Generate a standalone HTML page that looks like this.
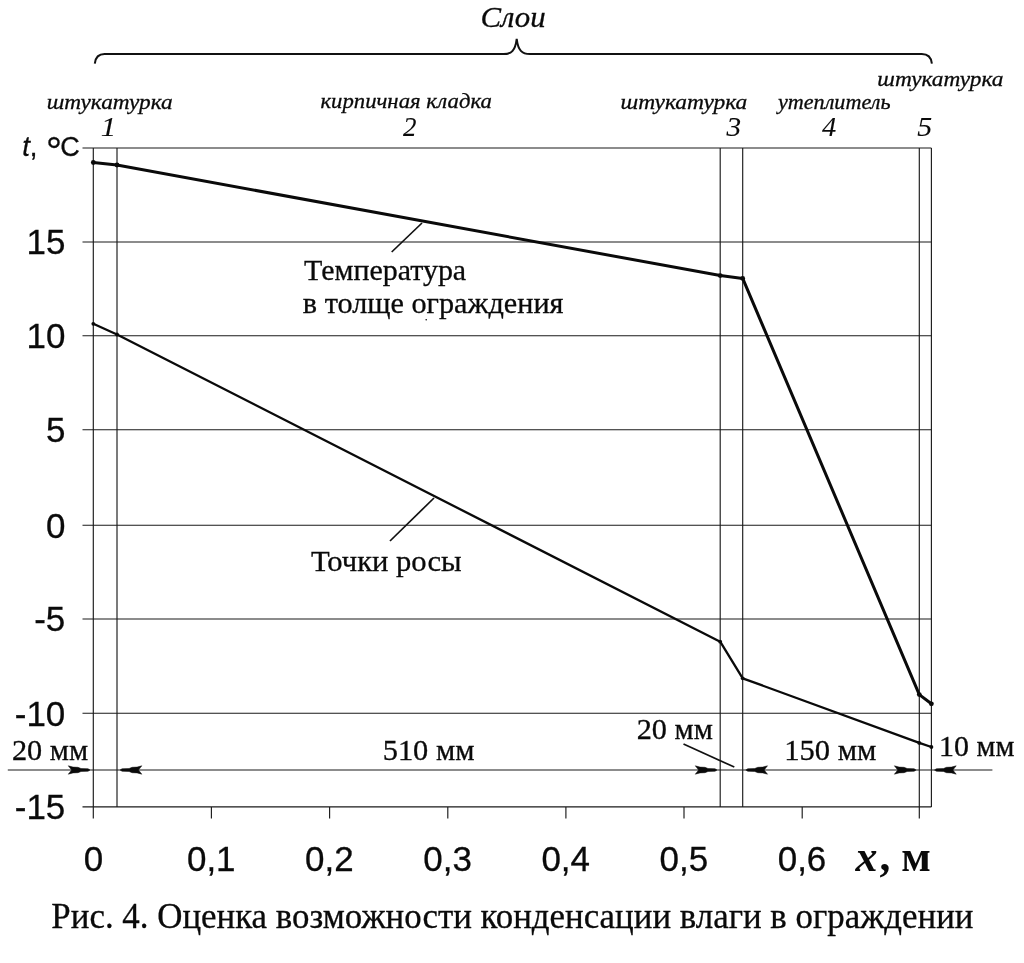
<!DOCTYPE html>
<html lang="ru">
<head>
<meta charset="utf-8">
<title>Рис. 4. Оценка возможности конденсации влаги в ограждении</title>
<style>
html,body{margin:0;padding:0;background:#fff;}
body{width:1024px;height:963px;overflow:hidden;}
svg{display:block;}
.sans{font-family:"Liberation Sans",Arial,sans-serif;fill:#0a0a0a;stroke:#0a0a0a;stroke-width:0.3;}
.serif{font-family:"Liberation Serif","Times New Roman",serif;fill:#0a0a0a;stroke:#0a0a0a;stroke-width:0.3;}
.it{font-style:italic;}
.grid line{stroke:#1a1a1a;stroke-width:1.15;}
.thin{stroke:#111;stroke-width:1.7;fill:none;}
</style>
</head>
<body>
<svg width="1024" height="963" viewBox="0 0 1024 963">
<rect width="1024" height="963" fill="#fff"/>

<g class="grid">
<line x1="82.5" y1="148.0" x2="931.4" y2="148.0"/>
<line x1="82.5" y1="242.0" x2="931.4" y2="242.0"/>
<line x1="82.5" y1="335.7" x2="931.4" y2="335.7"/>
<line x1="82.5" y1="429.7" x2="931.4" y2="429.7"/>
<line x1="82.5" y1="525.2" x2="931.4" y2="525.2"/>
<line x1="82.5" y1="619.0" x2="931.4" y2="619.0"/>
<line x1="82.5" y1="713.2" x2="931.4" y2="713.2"/>
<line x1="82.5" y1="806.9" x2="931.4" y2="806.9"/>
<line x1="93.3" y1="148" x2="93.3" y2="818.5"/>
<line x1="117.0" y1="148" x2="117.0" y2="807"/>
<line x1="720.2" y1="148" x2="720.2" y2="807"/>
<line x1="742.7" y1="148" x2="742.7" y2="807"/>
<line x1="919.3" y1="148" x2="919.3" y2="818.5"/>
<line x1="931.4" y1="148" x2="931.4" y2="807"/>
<line x1="211.4" y1="807" x2="211.4" y2="818.5"/>
<line x1="329.6" y1="807" x2="329.6" y2="818.5"/>
<line x1="447.8" y1="807" x2="447.8" y2="818.5"/>
<line x1="565.9" y1="807" x2="565.9" y2="818.5"/>
<line x1="684.0" y1="807" x2="684.0" y2="818.5"/>
<line x1="802.2" y1="807" x2="802.2" y2="818.5"/>
<line x1="7.8" y1="770" x2="992.4" y2="770"/>
</g>
<polyline points="93.3,162.5 117.0,165 720.2,275.6 742.7,278.4 919.3,694.6 931.4,703.8" fill="none" stroke="#0a0a0a" stroke-width="3.0" stroke-linejoin="round" stroke-linecap="round"/>
<polyline points="93.3,323.8 117.0,334.5 720.2,641.7 742.7,678.3 919.3,742.9 931.4,747" fill="none" stroke="#0a0a0a" stroke-width="2.3" stroke-linejoin="round" stroke-linecap="round"/>
<g fill="#0a0a0a">
<circle cx="93.3" cy="162.5" r="2.4"/>
<circle cx="117.0" cy="165" r="2.4"/>
<circle cx="720.2" cy="275.6" r="2.4"/>
<circle cx="742.7" cy="278.4" r="2.4"/>
<circle cx="919.3" cy="694.6" r="2.4"/>
<circle cx="931.4" cy="703.8" r="2.4"/>
<circle cx="93.3" cy="323.8" r="1.9"/>
<circle cx="117.0" cy="334.5" r="1.9"/>
<circle cx="720.2" cy="641.7" r="1.9"/>
<circle cx="742.7" cy="678.3" r="1.9"/>
<circle cx="919.3" cy="742.9" r="1.9"/>
<circle cx="931.4" cy="747" r="1.9"/>
<circle cx="426.2" cy="319.7" r="0.8"/>
</g>
<line class="thin" x1="422" y1="223" x2="391.7" y2="252"/>
<line class="thin" x1="434" y1="498" x2="390" y2="541"/>
<line class="thin" x1="683.5" y1="744" x2="734.3" y2="767.1"/>
<path class="thin" style="stroke-width:2" d="M94.8,63.6 C95.5,57.5 98.5,54.1 104.5,54.1 L503.5,54.1 C511.5,54.1 515.3,50.5 516.7,38.8 C518.1,50.5 522,54.1 530,54.1 L921.8,54.1 C928,54.1 931.2,57.5 931.9,63.6"/>
<g>
<text class="sans" font-size="35.5" transform="translate(26.48,254.3) scale(0.9850,1)">15</text>
<text class="sans" font-size="35.5" transform="translate(26.48,348.0) scale(0.9850,1)">10</text>
<text class="sans" font-size="35.5" transform="translate(45.89,442.0) scale(0.9850,1)">5</text>
<text class="sans" font-size="35.5" transform="translate(45.89,537.5) scale(0.9850,1)">0</text>
<text class="sans" font-size="35.5" transform="translate(34.18,631.3) scale(0.9850,1)">-5</text>
<text class="sans" font-size="35.5" transform="translate(14.77,725.5) scale(0.9850,1)">-10</text>
<text class="sans" font-size="35.5" transform="translate(14.77,819.2) scale(0.9850,1)">-15</text>
</g>
<text class="sans" font-size="27.5" transform="translate(22.2,155.6)"><tspan font-style="italic">t</tspan>, <tspan font-size="40" x="23.7" y="9.5">°</tspan><tspan x="38" y="0" font-size="27">C</tspan></text>
<g>
<text class="sans" font-size="35.5" transform="translate(83.70,871.3) scale(0.9850,1)">0</text>
<text class="sans" font-size="35.5" transform="translate(186.94,871.3) scale(0.985,1)">0,1</text>
<text class="sans" font-size="35.5" transform="translate(305.09,871.3) scale(0.985,1)">0,2</text>
<text class="sans" font-size="35.5" transform="translate(423.24,871.3) scale(0.985,1)">0,3</text>
<text class="sans" font-size="35.5" transform="translate(541.39,871.3) scale(0.985,1)">0,4</text>
<text class="sans" font-size="35.5" transform="translate(659.54,871.3) scale(0.985,1)">0,5</text>
<text class="sans" font-size="35.5" transform="translate(777.69,871.3) scale(0.985,1)">0,6</text>
</g>
<text class="serif" style="stroke:none" font-size="44" font-weight="bold" x="855.5" y="870.6"><tspan font-style="italic">x</tspan><tspan x="879.4" font-size="43.5">, м</tspan></text>
<text class="serif it" font-size="29.5" transform="translate(480.40,27.3) scale(1.0462,1)" >Слои</text>
<text class="serif it" font-size="21.8" transform="translate(46.67,108.8) scale(1.0689,1)">штукатурка</text>
<text class="serif it" font-size="21.8" transform="translate(320.42,107.8) scale(1.0433,1)">кирпичная кладка</text>
<text class="serif it" font-size="21.8" transform="translate(620.56,108.6) scale(1.0758,1)">штукатурка</text>
<text class="serif it" font-size="21.8" transform="translate(777.89,108.6) scale(1.0175,1)">утеплитель</text>
<text class="serif it" font-size="21.8" transform="translate(877.37,85.6) scale(1.0689,1)">штукатурка</text>
<text class="serif it" font-size="27.3" transform="translate(100.72,135.6) scale(1.1350,1)" style="stroke-width:0.1">1</text>
<text class="serif it" font-size="27.3" transform="translate(403.10,135.9) scale(0.9844,1)" style="stroke-width:0.1">2</text>
<text class="serif it" font-size="27.3" transform="translate(726.40,135.7) scale(1.0713,1)" style="stroke-width:0.1">3</text>
<text class="serif it" font-size="27.3" transform="translate(822.06,135.7) scale(1.0443,1)" style="stroke-width:0.1">4</text>
<text class="serif it" font-size="27.3" transform="translate(917.35,135.7) scale(1.0949,1)" style="stroke-width:0.1">5</text>
<text class="serif" font-size="30" transform="translate(304.00,279.6) scale(0.9988,1)">Температура</text>
<text class="serif" font-size="30" transform="translate(302.80,313.1) scale(1.0080,1)">в толще ограждения</text>
<text class="serif" font-size="30" transform="translate(310.89,571) scale(1.0201,1)">Точки росы</text>
<text class="serif" font-size="28.8" transform="translate(11.94,759.8) scale(1.0516,1)">20 мм</text>
<text class="serif" font-size="28.8" transform="translate(382.67,759.8) scale(1.0565,1)">510 мм</text>
<text class="serif" font-size="28.8" transform="translate(636.64,739.2) scale(1.0516,1)">20 мм</text>
<text class="serif" font-size="28.8" transform="translate(784.25,759.7) scale(1.0614,1)">150 мм</text>
<text class="serif" font-size="28.8" transform="translate(939.11,756.2) scale(1.0395,1)">10 мм</text>
<g fill="#0a0a0a" stroke="#0a0a0a" stroke-width="0.5" stroke-linejoin="round">
<path d="M90.0,770.0 L88.0,768.7 L81.0,768.5 L78.0,767.3 L73.0,767.1 L68.3,765.8 L71.6,770.0 L68.3,774.2 L73.0,772.9 L78.0,772.7 L81.0,771.5 L88.0,771.3 Z"/>
<path d="M120.1,770.0 L122.1,768.7 L129.1,768.5 L132.1,767.3 L137.1,767.1 L141.8,765.8 L138.5,770.0 L141.8,774.2 L137.1,772.9 L132.1,772.7 L129.1,771.5 L122.1,771.3 Z"/>
<path d="M717.0,770.0 L715.0,768.7 L708.0,768.5 L705.0,767.3 L700.0,767.1 L695.3,765.8 L698.6,770.0 L695.3,774.2 L700.0,772.9 L705.0,772.7 L708.0,771.5 L715.0,771.3 Z"/>
<path d="M745.8,770.0 L747.8,768.7 L754.8,768.5 L757.8,767.3 L762.8,767.1 L767.5,765.8 L764.2,770.0 L767.5,774.2 L762.8,772.9 L757.8,772.7 L754.8,771.5 L747.8,771.3 Z"/>
<path d="M916.1,770.0 L914.1,768.7 L907.1,768.5 L904.1,767.3 L899.1,767.1 L894.4,765.8 L897.7,770.0 L894.4,774.2 L899.1,772.9 L904.1,772.7 L907.1,771.5 L914.1,771.3 Z"/>
<path d="M934.5,770.0 L936.5,768.7 L943.5,768.5 L946.5,767.3 L951.5,767.1 L956.2,765.8 L952.9,770.0 L956.2,774.2 L951.5,772.9 L946.5,772.7 L943.5,771.5 L936.5,771.3 Z"/>
</g>
<text class="serif" font-size="34.8" transform="translate(51.35,927.6) scale(1.0026,1)">Рис. 4. Оценка возможности конденсации влаги в ограждении</text>
</svg>
</body>
</html>
